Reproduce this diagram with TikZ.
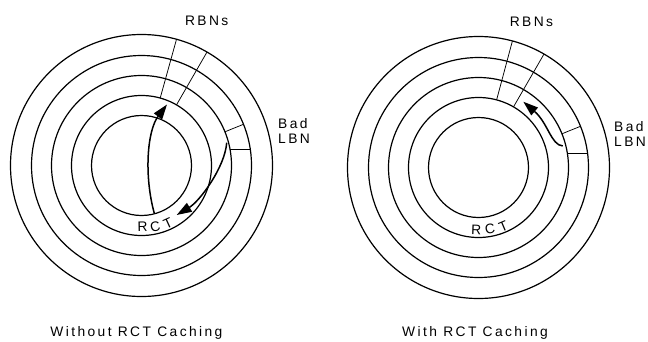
\documentclass[tikz,border=0pt]{standalone}
\usepackage{fontspec}
\setmainfont{Liberation Sans}[LetterSpace=17.5]
\usetikzlibrary{arrows.meta}
\begin{document}
\begin{tikzpicture}[x=1pt,y=1pt,
  ring/.style={line width=1.2pt},
  sector/.style={line width=0.75pt},
  flow/.style={line width=1.5pt,-{Triangle[length=15pt,width=10pt]}},
  lbl/.style={font=\fontsize{13.8}{16}\selectfont, inner sep=0pt},
]
\useasboundingbox (0,0) rectangle (648,341);
% ---------- left disk ----------
\coordinate (L) at (141.5,175.5);
\foreach \r in {131,110,90,70,50} \draw[ring] (L) circle[radius=\r];
\draw[sector] ([shift={(74.5:131)}]L) -- ([shift={(74.5:70)}]L);
\draw[sector] ([shift={(60:131)}]L) -- ([shift={(60:70)}]L);
\draw[sector] ([shift={(22:90)}]L) -- ([shift={(22:110)}]L);
\draw[sector] ([shift={(88.5,16.5)}]L) -- ([shift={(108.8,16.5)}]L);
\coordinate (a1s) at (154.3,127.7);
\coordinate (a1e) at (167,236.5);
\draw[flow] (a1s) .. controls (144,165) and (147,210) .. (a1e);
\coordinate (a2s) at (226.7,198.3);
\coordinate (a2e) at (176.7,126);
\draw[flow] (a2s) .. controls (225,174) and (200,140) .. (a2e);
\node[lbl,rotate=1] (rL1) at ([shift={(-89:61.5)}]L) {R};
\node[lbl,rotate=12.5] (rL2) at ([shift={(-77.5:63)}]L) {C};
\node[lbl,rotate=24.5] (rL3) at ([shift={(-65.5:64)}]L) {T};
\node[lbl,anchor=base] (rbnL) at (206.7,316) {RBNs};
\node[lbl,anchor=base west] (badL) at (278,212.7) {Bad};
\node[lbl,anchor=base west] (lbnL) at (278,197.7) {LBN};
\node[lbl,anchor=base] (capL) at (136.4,4.3) {Without RCT Caching};
% ---------- right disk ----------
\coordinate (Rc) at (478.5,173.5);
\foreach \r in {131,110,90,70,50} \draw[ring] (Rc) circle[radius=\r];
\draw[sector] ([shift={(75:131)}]Rc) -- ([shift={(75:70)}]Rc);
\draw[sector] ([shift={(60:131)}]Rc) -- ([shift={(60:70)}]Rc);
\draw[sector] ([shift={(22:90)}]Rc) -- ([shift={(22:110)}]Rc);
\draw[sector] ([shift={(88.9,13.7)}]Rc) -- ([shift={(109.1,13.7)}]Rc);
\coordinate (a3s) at (562.7,195);
\coordinate (a3e) at (523.3,239.3);
\draw[flow] (a3s) .. controls (551,196) and (548,218) .. (a3e);
\node[lbl,rotate=-2] (rR1) at ([shift={(-92:62)}]Rc) {R};
\node[lbl,rotate=10] (rR2) at ([shift={(-79.5:63)}]Rc) {C};
\node[lbl,rotate=23] (rR3) at ([shift={(-67:64)}]Rc) {T};
\node[lbl,anchor=base] (rbnR) at (531.5,315) {RBNs};
\node[lbl,anchor=base west] (badR) at (614,210) {Bad};
\node[lbl,anchor=base west] (lbnR) at (614,195) {LBN};
\node[lbl,anchor=base] (capR) at (475,4.3) {With RCT Caching};
\end{tikzpicture}
\end{document}
